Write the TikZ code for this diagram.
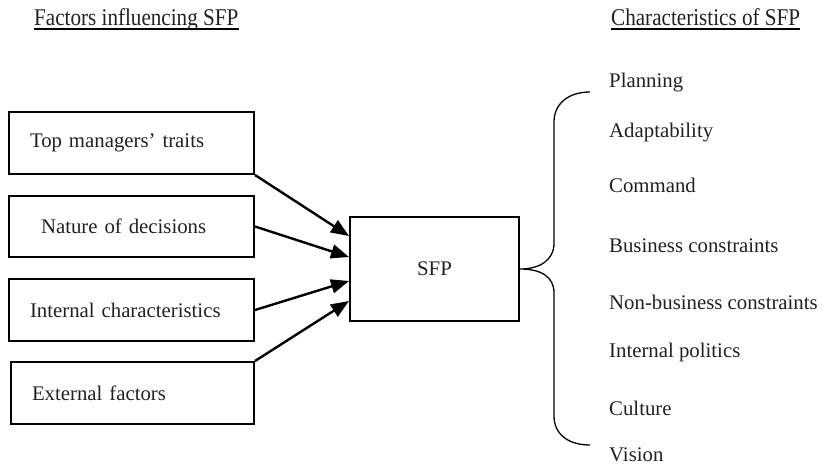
\documentclass[tikz,border=0pt]{standalone}
\usepackage{fontspec}
\setmainfont{Liberation Serif}
\usetikzlibrary{arrows.meta}
\definecolor{ink}{gray}{0.13}

\begin{document}
\begin{tikzpicture}[x=1pt,y=-1pt,
  every node/.style={font=\fontsize{20.8}{25}\selectfont, text=ink},
  factor/.style={draw=black, line width=2pt, minimum height=62pt,
    minimum width=245pt, inner ysep=0pt, align=left},
  core/.style={draw=black, line width=2pt, minimum width=169pt,
    minimum height=104pt, inner sep=0pt},
  trait/.style={anchor=west, inner sep=0pt},
  heading/.style={anchor=base west, inner sep=0pt,
    font=\fontsize{24}{28}\selectfont},
  feed/.style={line width=2.4pt, -{Triangle[length=18pt,width=14pt]}},
  bracket/.style={line width=1.3pt, line join=round}
]
\useasboundingbox (0,0) rectangle (826,468);

% headings
\node[heading] (hleft) at (34,25.5) {\scalebox{0.88}[1]{Factors influencing SFP}};
\node[heading] (hright) at (611,25.5) {\scalebox{0.88}[1]{Characteristics of SFP}};
\draw[line width=1.4pt] ([yshift=-3.5pt]hleft.base west) -- ([yshift=-3.5pt]hleft.base east);
\draw[line width=1.4pt] ([yshift=-3.5pt]hright.base west) -- ([yshift=-3.5pt]hright.base east);

% factor boxes
\node[factor, inner xsep=21pt, text width=203pt] (f1) at (131.5,143) {Top managers’ traits};
\node[factor, inner xsep=32pt, text width=181pt, minimum height=61pt] (f2) at (131.5,226.5) {Nature of decisions};
\node[factor, inner xsep=21pt, text width=203pt] (f3) at (131.5,310) {Internal characteristics};
\node[factor, inner xsep=21pt, text width=201pt, minimum width=243pt] (f4) at (132.5,393) {External factors};

% central box
\node[core] (sfp) at (434.5,269) {SFP};

% influences
\draw[feed] (f1.south east) -- ([yshift=33pt]sfp.west);
\draw[feed] (f2.east) -- ([yshift=12pt]sfp.west);
\draw[feed] (f3.east) -- ([yshift=-12pt]sfp.west);
\draw[feed] (f4.north east) -- ([yshift=-32pt]sfp.west);

% characteristics
\node[trait] (c1) at (609,83) {Planning};
\node[trait] (c2) at (609,133) {Adaptability};
\node[trait] (c3) at (609,185) {Command};
\node[trait] (c4) at (609,246) {Business constraints};
\node[trait] (c5) at (609,302) {Non-business constraints};
\node[trait] (c6) at (609,352) {Internal politics};
\node[trait] (c7) at (609,408) {Culture};
\node[trait] (c8) at (609,455) {Vision};

% brace
\coordinate (btop) at (590,92);
\coordinate (bbot) at (590,445);
\draw[bracket] (btop) .. controls (568,92) and (554,104) .. (554,122)
  -- (554,243) .. controls (554,260) and (540,269) .. (sfp.east)
  .. controls (540,269) and (554,276) .. (554,293)
  -- (554,416) .. controls (554,434) and (568,445) .. (bbot);
\end{tikzpicture}
\end{document}
